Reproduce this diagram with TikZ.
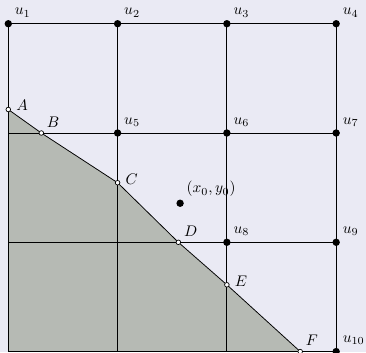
\documentclass[tikz,border=0pt]{standalone}
\definecolor{bgcol}{RGB}{234,234,244}
\definecolor{regioncol}{RGB}{182,186,180}
\begin{document}
\begin{tikzpicture}[x=2.5cm,y=2.5cm,
  gridline/.style={line width=0.6pt, draw=black},
  edgeline/.style={line width=0.5pt, draw=black},
  bigdot/.style={circle, fill=black, inner sep=0pt, minimum size=4.8pt},
  opendot/.style={circle, draw=black, fill=white, line width=0.45pt, inner sep=0pt, minimum size=3pt},
  ar/.style={label={[label distance=-1.5pt]above right:#1}},
  rt/.style={label={[label distance=0pt, yshift=2.5pt]right:#1}}]
\fill[bgcol] (-0.076,-0.006) rectangle (3.273,3.217);
\useasboundingbox (-0.076,-0.006) rectangle (3.273,3.217);
% grid coordinates
\foreach \i in {0,...,3}{\foreach \j in {0,...,3}{\coordinate (g\i\j) at (\i,\j);}}
% boundary points
\coordinate (pA) at (0,2.215);
\coordinate (pB) at (0.302,2);
\coordinate (pC) at (1,1.545);
\coordinate (pD) at (1.556,1);
\coordinate (pE) at (2,0.611);
\coordinate (pF) at (2.671,0);
% shaded region
\fill[regioncol] (g00) -- (pA) -- (pB) -- (pC) -- (pD) -- (pE) -- (pF) -- cycle;
% grid lines
\foreach \i in {0,...,3}{
  \draw[gridline] (g\i0) -- (g\i3);
  \draw[gridline] (g0\i) -- (g3\i);
}
% boundary line
\draw[edgeline] (pA) -- (pB) -- (pC) -- (pD) -- (pE) -- (pF);
% vertices
\node[bigdot, ar={$u_1$}] (u1) at (g03) {};
\node[bigdot, ar={$u_2$}] (u2) at (g13) {};
\node[bigdot, ar={$u_3$}] (u3) at (g23) {};
\node[bigdot, ar={$u_4$}] (u4) at (g33) {};
\node[bigdot, ar={$u_5$}] (u5) at (g12) {};
\node[bigdot, ar={$u_6$}] (u6) at (g22) {};
\node[bigdot, ar={$u_7$}] (u7) at (g32) {};
\node[bigdot, ar={$u_8$}] (u8) at (g21) {};
\node[bigdot, ar={$u_9$}] (u9) at (g31) {};
\node[bigdot, ar={$u_{10}$}] (u10) at (g30) {};
\node[bigdot, ar={$(x_0,y_0)$}] (x0) at (1.572,1.357) {};
% boundary points
\node[opendot, rt={$A$}] (A) at (pA) {};
\node[opendot, ar={$B$}] (B) at (pB) {};
\node[opendot, rt={$C$}] (C) at (pC) {};
\node[opendot, ar={$D$}] (D) at (pD) {};
\node[opendot, rt={$E$}] (E) at (pE) {};
\node[opendot, ar={$F$}] (F) at (pF) {};
\end{tikzpicture}
\end{document}
